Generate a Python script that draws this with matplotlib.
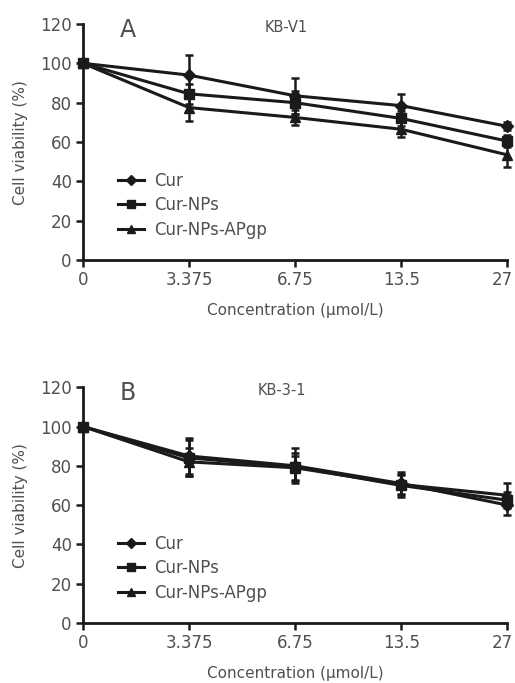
import matplotlib
matplotlib.use("Agg")
import matplotlib.pyplot as plt
from matplotlib.lines import Line2D
import matplotlib.transforms as mtransforms
import numpy as np

concentrations = ["0", "3.375", "6.75", "13.5", "27"]
series_names = ["Cur", "Cur-NPs", "Cur-NPs-APgp"]
markers = ["D", "s", "^"]

# Panel A: KB-V1
a_cur = [100, 94, 83.5, 78.5, 68]
a_cur_err = [0, 10, 9, 6, 2]
a_nps = [100, 84.5, 80, 72, 60.5]
a_nps_err = [0, 5, 6, 4, 3]
a_apgp = [100, 77.5, 72.5, 66.5, 53.5]
a_apgp_err = [0, 7, 4, 4, 6]

# Panel B: KB-3-1
b_cur = [100, 85, 80, 71, 60]
b_cur_err = [0, 9, 9, 6, 5]
b_nps = [100, 84, 79.5, 70, 62.5]
b_nps_err = [0, 9, 7, 6, 4]
b_apgp = [100, 82, 79, 70.5, 65]
b_apgp_err = [0, 7, 6, 5, 6]

plt.rcParams['font.family'] = ['DejaVu Sans']
gray = '#505050'
dark = '#1a1a1a'

fig = plt.figure(figsize=(5.15, 6.83), dpi=100)
axA = fig.add_axes([0.161, 0.619, 0.824, 0.346])
axB = fig.add_axes([0.161, 0.088, 0.824, 0.345])

panels = [
    (axA, "A", "KB-V1", 0.48, [(a_cur, a_cur_err), (a_nps, a_nps_err), (a_apgp, a_apgp_err)]),
    (axB, "B", "KB-3-1", 0.47, [(b_cur, b_cur_err), (b_nps, b_nps_err), (b_apgp, b_apgp_err)]),
]

x = np.arange(len(concentrations))
for ax, letter, title, tx, data in panels:
    handles = []
    for (vals, errs), name, m in zip(data, series_names, markers):
        ms = 7 if m != "D" else 6
        ax.errorbar(x, vals, yerr=errs, color=dark, marker=m, ms=ms,
                    lw=2.2, elinewidth=1.8, capsize=3, capthick=1.8,
                    clip_on=False)
        handles.append(Line2D([], [], color=dark, marker=m, ms=ms - 1, lw=2.2,
                              label=name))
    ax.set_xlim(0, 4)
    ax.set_ylim(0, 120)
    ax.set_yticks(np.arange(0, 121, 20))
    ax.set_xticks(x)
    ax.set_xticklabels(concentrations)
    for s in ['top', 'right']:
        ax.spines[s].set_visible(False)
    for s in ['left', 'bottom']:
        ax.spines[s].set_linewidth(2)
        ax.spines[s].set_color(dark)
    ax.tick_params(direction='out', length=5, width=1.8, color=dark,
                   labelsize=12, labelcolor=gray, pad=3)
    last = ax.get_xticklabels()[-1]
    last.set_transform(last.get_transform() +
                       mtransforms.ScaledTranslation(-5 / 100, 0, fig.dpi_scale_trans))
    ax.set_ylabel("Cell viability (%)", fontsize=11, color=gray, labelpad=9)
    ax.set_xlabel("Concentration (μmol/L)", fontsize=11, color=gray, labelpad=10)
    ax.text(0.105, 0.975, letter, transform=ax.transAxes, fontsize=17,
            color=gray, va='center', ha='center')
    ax.text(tx, 0.985, title, transform=ax.transAxes, fontsize=10.5,
            color=gray, va='center', ha='center')
    leg = ax.legend(handles=handles, loc='upper left', bbox_to_anchor=(0.082, 0.375),
                    frameon=False, fontsize=12, handlelength=1.6, handletextpad=0.6,
                    labelspacing=0.4, borderaxespad=0, borderpad=0)
    for t in leg.get_texts():
        t.set_color(gray)

fig.savefig("out.png", dpi=100, facecolor='white')
